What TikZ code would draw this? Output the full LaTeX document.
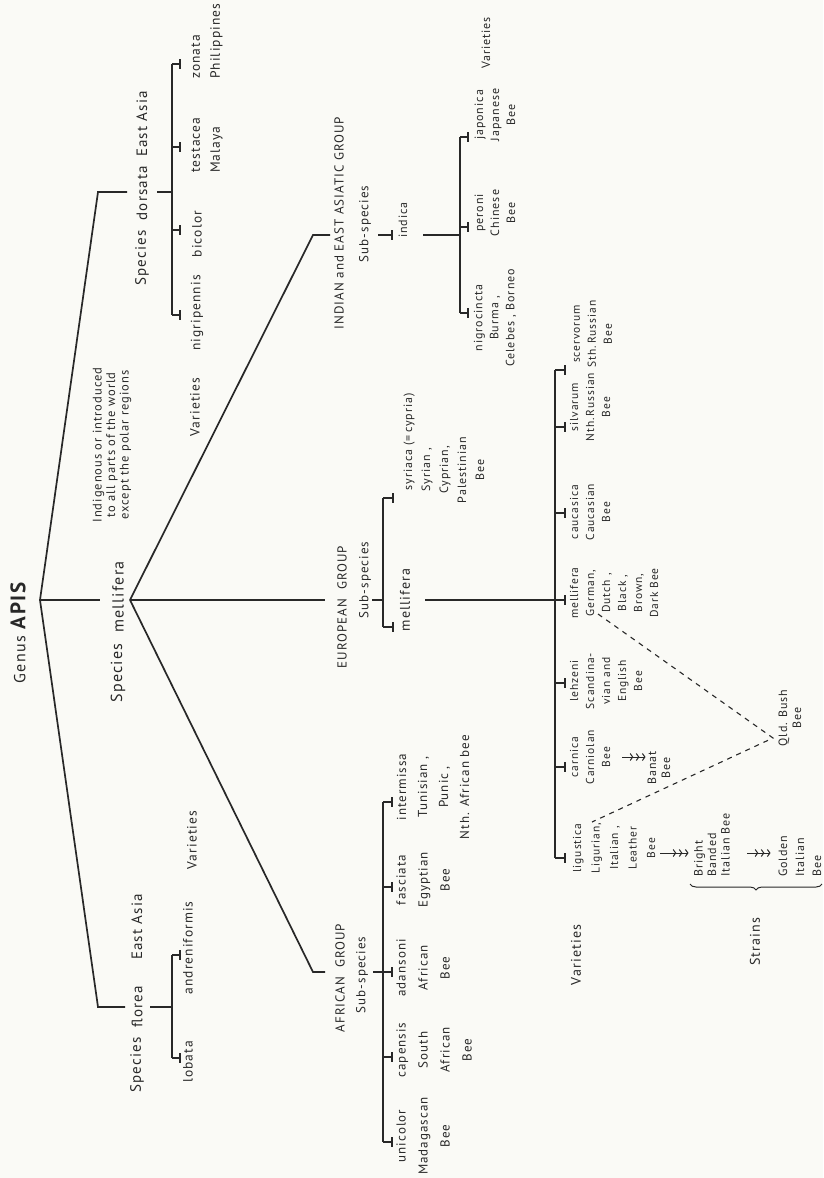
\documentclass[tikz,border=0pt]{standalone}
\usepackage{fontspec}
\setmainfont{PT Sans}[LetterSpace=8]
\usepackage{tikz}
\usetikzlibrary{arrows.meta, decorations.pathreplacing}
\definecolor{paper}{RGB}{250,250,246}
\definecolor{ink}{RGB}{40,40,40}
\newcommand{\fsz}[2]{\fontsize{#1}{#2}\selectfont}
\newcommand{\vartick}[3]{%
  \draw[branch] (#1,#2) -- (#3,#2);
  \draw[branch] (#3,#2-5) -- (#3,#2+5);
}

\begin{document}
\begin{tikzpicture}[x=1pt, y=-1pt, ink,
    branch/.style={line width=1.7pt},
    dashlink/.style={line width=1.1pt, dash pattern=on 5pt off 5pt},
    tripleto/.style={line width=1pt,
      -{Straight Barb[length=2.5pt,width=7pt,sep=2.5pt]
        Straight Barb[length=2.5pt,width=7pt,sep=2.5pt]
        Straight Barb[length=2.5pt,width=7pt,sep=2.5pt]}},
    lbl/.style={rotate=90, align=center, inner sep=1pt, text=ink},
    spword/.style={lbl, font=\fsz{15}{18}},
    grptitle/.style={lbl, font=\fsz{13}{16}},
    asvar/.style={lbl, font=\fsz{13.5}{20}},
    afrvar/.style={lbl, font=\fsz{13}{22}},
    indvar/.style={lbl, font=\fsz{12}{16}},
    eurvar/.style={lbl, font=\fsz{11.5}{16}}]

  % Paper
  \fill[paper] (0,0) rectangle (823,1178);
  \useasboundingbox (0,0) rectangle (823,1178);

  % Junction points
  \coordinate (root) at (40,600);
  \coordinate (kD) at (98,192);   \coordinate (dIn) at (127,192);
  \coordinate (dOut) at (157,192); \coordinate (bD) at (172,192);
  \coordinate (kF) at (98,1007);  \coordinate (fIn) at (125,1007);
  \coordinate (fOut) at (150,1007); \coordinate (bF) at (172,1007);
  \coordinate (mIn) at (100,600);  \coordinate (M) at (130,600);
  \coordinate (kA) at (313,972);  \coordinate (aIn) at (325,972);
  \coordinate (aOut) at (373,972); \coordinate (bA) at (383,972);
  \coordinate (eIn) at (325,600);  \coordinate (eOut) at (372,600);
  \coordinate (bE) at (383,600);   \coordinate (eSub) at (425,600);
  \coordinate (bEV) at (555,600);
  \coordinate (kI) at (313,235);  \coordinate (iIn) at (330,235);
  \coordinate (iOut) at (423,235); \coordinate (bI) at (460,235);

  % Genus
  \node[lbl, font=\fsz{16}{18}] (genus) at (18,632) {Genus \textbf{\fsz{21}{22}APIS}};

  % Species dorsata
  \draw[branch] (root) -- (kD) -- (dIn);
  \draw[branch] (dOut) -- (bD);
  \node[spword] (spD) at (142,258) {Species};
  \node[spword] (dorsata) at (142,193) {dorsata};
  \node[spword] (eaD) at (142,124) {East Asia};
  \draw[branch] (172,64) -- (172,315);
  \foreach \t in {64,147,230,315} {\vartick{172}{\t}{180}}
  \node[asvar, align=left, anchor=west] (zonata) at (207,80) {zonata\\Philippines};
  \node[asvar, align=left, anchor=west] (testacea) at (207,174) {testacea\\Malaya};
  \node[asvar] (bicolor) at (197,234) {bicolor};
  \node[asvar] (nigripennis) at (197,313) {nigripennis};
  \node[asvar] (varD) at (195,407) {Varieties};

  % Species florea
  \draw[branch] (root) -- (kF) -- (fIn);
  \draw[branch] (fOut) -- (bF);
  \node[spword] (spF) at (137,1065) {Species};
  \node[spword] (florea) at (137,1007) {florea};
  \node[spword] (eaF) at (137,927) {East Asia};
  \draw[branch] (172,955) -- (172,1058);
  \foreach \t in {955,1058} {\vartick{172}{\t}{180}}
  \node[asvar] (lobata) at (188,1062) {lobata};
  \node[asvar] (andreniformis) at (188,948) {andreniformis};
  \node[asvar] (varF) at (192,840) {Varieties};

  % Species mellifera
  \draw[branch] (root) -- (mIn);
  \node[lbl, font=\fsz{16}{18}] (spM) at (118,673) {Species};
  \node[lbl, font=\fsz{16}{18}] (mellifera) at (118,597) {mellifera};
  \node[lbl, font=\fsz{12.5}{13.5}] (range) at (112,445)
    {Indigenous or introduced\\to all parts of the world\\except the polar regions};
  \draw[branch] (M) -- (kI) -- (iIn);
  \draw[branch] (M) -- (eIn);
  \draw[branch] (M) -- (kA) -- (aIn);

  % African group
  \node[grptitle] (afr) at (340,978) {AFRICAN\ \ GROUP};
  \node[grptitle] (afrsub) at (362,975) {Sub-species};
  \draw[branch] (aOut) -- (bA);
  \draw[branch] (383,802) -- (383,1142);
  \foreach \t in {802,887,972,1057,1142} {\vartick{383}{\t}{392}}
  \node[afrvar] (unicolor) at (423,1136) {unicolor\\Madagascan\\Bee};
  \node[afrvar] (capensis) at (434,1050) {capensis\\South\\African\\Bee};
  \node[afrvar] (adansoni) at (423,968) {adansoni\\African\\Bee};
  \node[afrvar] (fasciata) at (423,880) {fasciata\\Egyptian\\Bee};
  \node[lbl, font=\fsz{13}{21}] (intermissa) at (433,787)
    {intermissa\\Tunisian ,\\Punic ,\\Nth. African bee};

  % European group
  \node[grptitle] (eur) at (342,607) {EUROPEAN\ \ GROUP};
  \node[grptitle] (eursub) at (365,580) {Sub-species};
  \draw[branch] (eOut) -- (bE);
  \draw[branch] (383,498) -- (383,627);
  \foreach \t in {498,627} {\vartick{383}{\t}{393}}
  \node[lbl, font=\fsz{14}{16}] (mellsub) at (405,600) {mellifera};
  \node[lbl, font=\fsz{12}{18}] (syriaca) at (444,470)
    {syriaca\rlap{ (=\,cypria)}\\Syrian ,\\Cyprian,\\Palestinian\\Bee};
  \draw[branch] (eSub) -- (bEV);
  \draw[branch] (555,370) -- (555,858);
  \foreach \t in {370,427,513,600,683,767,858} {\vartick{555}{\t}{565}}
  \node[eurvar] (scervorum) at (593,334) {scervorum\\Sth.\,Russian\\Bee};
  \node[eurvar] (silvarum) at (590,407) {silvarum\\Nth.\,Russian\\Bee};
  \node[eurvar] (caucasica) at (590,512) {caucasica\\Caucasian\\Bee};
  \node[eurvar] (mellvar) at (614,593) {mellifera\\German,\\Dutch ,\\Black ,\\Brown,\\Dark Bee};
  \node[eurvar] (lehzeni) at (606,681) {lehzeni\\Scandina-\\vian and\\English\\Bee};
  \node[eurvar] (carnica) at (590,757) {carnica\\Carniolan\\Bee};
  \node[lbl, font=\fsz{11.5}{18.5}] (ligustica) at (614,848)
    {ligustica\\Ligurian,\\Italian ,\\Leather\\Bee};
  \node[lbl, font=\fsz{12}{14}] (banat) at (659,768) {Banat\\Bee};
  \node[lbl, font=\fsz{12}{14}] (qld) at (790,718) {Qld. Bush\\Bee};
  \node[lbl, font=\fsz{12}{13.5}, align=left, anchor=west] (bright) at (712,878)
    {Bright\\Banded\\Italian Bee};
  \node[lbl, font=\fsz{12}{17}, align=left, anchor=west] (golden) at (800,878)
    {Golden\\Italian\\Bee};
  \node[lbl, font=\fsz{14}{16}] (varE) at (576,955) {Varieties};
  \node[lbl, font=\fsz{14}{16}] (strains) at (755,942) {Strains};

  % Crosses to Qld. Bush Bee
  \coordinate (dA) at (598,614);
  \coordinate (qldtip) at (773,738);
  \coordinate (dB) at (592,822);
  \draw[dashlink] (dA) -- (qldtip) -- (dB);

  % Strain arrows
  \coordinate (a1s) at (622,757); \coordinate (a1e) at (648,757);
  \coordinate (a2s) at (660,853); \coordinate (a2e) at (691,853);
  \coordinate (a3s) at (747,853); \coordinate (a3e) at (773,853);
  \draw[tripleto] (a1s) -- (a1e);
  \draw[tripleto] (a2s) -- (a2e);
  \draw[tripleto] (a3s) -- (a3e);
  \draw[decorate, decoration={brace, amplitude=6pt}, line width=1pt] (822,884) -- (690,884);

  % Indian and East Asiatic group
  \node[grptitle] (ind) at (339,223) {INDIAN and EAST ASIATIC GROUP};
  \node[grptitle] (indsub) at (365,224) {Sub-species};
  \vartick{378}{235}{392}
  \node[lbl, font=\fsz{12}{14}] (indica) at (403,220) {indica};
  \draw[branch] (iOut) -- (bI);
  \draw[branch] (460,137) -- (460,313);
  \foreach \t in {137,227,313} {\vartick{460}{\t}{468}}
  \node[indvar] (japonica) at (495,115) {japonica\\Japanese\\Bee};
  \node[indvar] (peroni) at (495,213) {peroni\\Chinese\\Bee};
  \node[indvar] (nigrocincta) at (495,318) {nigrocincta\\Burma ,\\Celebes , Borneo};
  \node[indvar] (varI) at (486,43) {Varieties};
\end{tikzpicture}
\end{document}
